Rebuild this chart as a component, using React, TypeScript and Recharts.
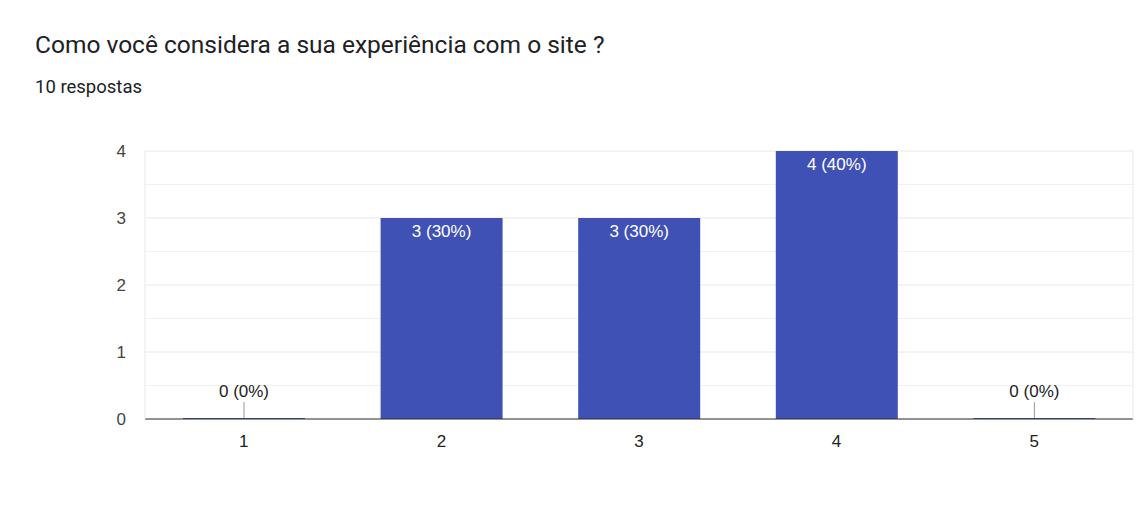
import React from 'react';
import { BarChart, Bar, XAxis, YAxis, CartesianGrid, LabelList } from 'recharts';

const categories = ['1', '2', '3', '4', '5'];
const counts = [0, 3, 3, 4, 0];
const yTicks = [0, 1, 2, 3, 4];
const minorTicks = [0.5, 1.5, 2.5, 3.5];

const total = counts.reduce((a, b) => a + b, 0);
const data = categories.map((name, i) => ({ name, value: counts[i] }));

const BAR_COLOR = '#3f51b5';
const FONT = '"Liberation Sans", Arial, sans-serif';

const BarLabel = (props: any) => {
  const { x, y, width, value } = props;
  const cx = x + width / 2;
  const pct = total ? Math.round((value / total) * 100) : 0;
  const text = `${value} (${pct}%)`;
  if (value === 0) {
    return (
      <g>
        <line x1={cx} x2={cx} y1={y - 16} y2={y} stroke="#999" strokeWidth={1} />
        <text x={cx} y={y - 21} textAnchor="middle" fontSize={17} fontFamily={FONT} fill="#222">
          {text}
        </text>
      </g>
    );
  }
  return (
    <text x={cx} y={y + 19} textAnchor="middle" fontSize={17} fontFamily={FONT} fill="#fff">
      {text}
    </text>
  );
};

export default function App() {
  return (
    <div style={{ position: 'absolute', left: 0, top: 0, width: 1147, height: 521, background: '#fff' }}>
      <div
        style={{
          position: 'absolute',
          left: 35,
          top: 30,
          fontFamily: 'Roboto, sans-serif',
          fontSize: 24.5,
          lineHeight: '30px',
          color: '#202124',
          whiteSpace: 'nowrap',
        }}
      >
        Como você considera a sua experiência com o site ?
      </div>
      <div
        style={{
          position: 'absolute',
          left: 35,
          top: 76,
          fontFamily: 'Roboto, sans-serif',
          fontSize: 18.5,
          lineHeight: '22px',
          color: '#202124',
          whiteSpace: 'nowrap',
        }}
      >
        10 respostas
      </div>
      <div style={{ position: 'absolute', left: 0, top: 0 }}>
        <BarChart
          width={1147}
          height={521}
          data={data}
          margin={{ top: 151, right: 0, left: 0, bottom: 72 }}
          barCategoryGap={0}
        >
          <CartesianGrid horizontal vertical={false} horizontalValues={minorTicks} stroke="#f1f1f1" />
          <CartesianGrid horizontal vertical={false} stroke="#e8e8e8" />
          <XAxis
            dataKey="name"
            tickLine={false}
            axisLine={{ stroke: '#333' }}
            tickMargin={10}
            tick={{ fontSize: 17, fill: '#222', fontFamily: FONT }}
          />
          <YAxis
            width={145}
            domain={[0, 4]}
            ticks={yTicks}
            tickLine={false}
            axisLine={{ stroke: '#e8e8e8' }}
            tickMargin={13}
            tick={{ fontSize: 17, fill: '#444', fontFamily: FONT }}
          />
          <YAxis
            yAxisId="right"
            orientation="right"
            width={14}
            domain={[0, 4]}
            tick={false}
            tickLine={false}
            axisLine={{ stroke: '#e8e8e8' }}
          />
          <Bar dataKey="value" fill={BAR_COLOR} barSize={122} minPointSize={1} isAnimationActive={false}>
            <LabelList dataKey="value" content={<BarLabel />} />
          </Bar>
        </BarChart>
      </div>
    </div>
  );
}
